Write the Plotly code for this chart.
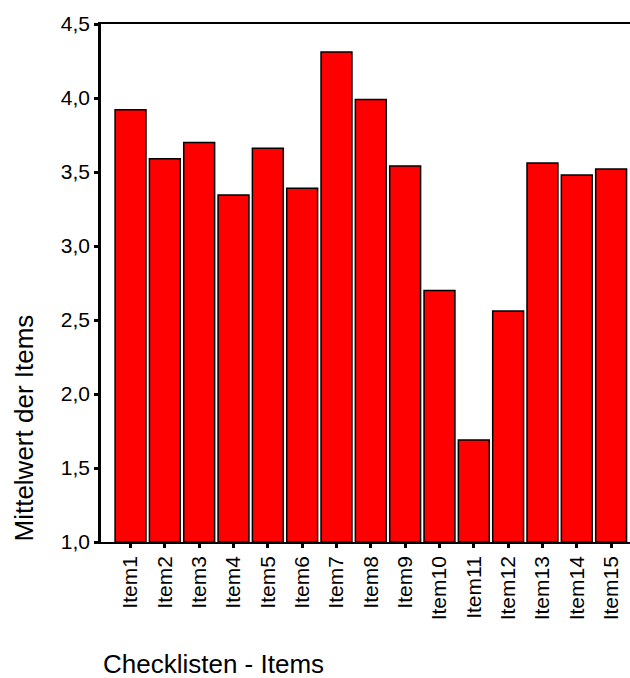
import plotly.graph_objects as go

categories = ["Item1", "Item2", "Item3", "Item4", "Item5", "Item6", "Item7", "Item8",
              "Item9", "Item10", "Item11", "Item12", "Item13", "Item14", "Item15"]
means = [3.92, 3.59, 3.70, 3.345, 3.66, 3.39, 4.31, 3.99,
         3.54, 2.70, 1.69, 2.56, 3.56, 3.48, 3.52]
y_ticks = [1.0, 1.5, 2.0, 2.5, 3.0, 3.5, 4.0, 4.5]
y_tick_labels = ["1,0", "1,5", "2,0", "2,5", "3,0", "3,5", "4,0", "4,5"]
y_title = "Mittelwert der Items"
x_title = "Checklisten - Items"

font_family = "Liberation Sans, Arial, sans-serif"

fig = go.Figure(go.Bar(
    x=categories,
    y=[m - 1.0 for m in means],
    base=1.0,
    marker=dict(color="#FF0000", line=dict(color="#000000", width=1.5)),
    hovertext=[f"{m}" for m in means],
))

fig.update_layout(
    width=630, height=678,
    margin=dict(l=101, r=0, t=24, b=136, autoexpand=False),
    paper_bgcolor="white", plot_bgcolor="white",
    showlegend=False,
    bargap=0.1,
    font=dict(family=font_family, color="black"),
    xaxis=dict(
        type="category",
        range=[-0.86, 14.55],
        automargin=False,
        showline=True, linecolor="black", linewidth=1.5, mirror=True,
        ticks="outside", ticklen=4, tickwidth=3, tickcolor="black",
        tickangle=-90, tickfont=dict(size=21, family=font_family),
        showgrid=False, zeroline=False,
    ),
    yaxis=dict(
        range=[1.0, 4.5],
        automargin=False,
        tickvals=y_ticks, ticktext=y_tick_labels,
        showline=True, linecolor="black", linewidth=2.5,
        ticks="outside", ticklen=4, tickwidth=3, tickcolor="black",
        tickfont=dict(size=21, family=font_family),
        showgrid=False, zeroline=False,
    ),
    annotations=[
        dict(text=y_title, textangle=-90, xref="paper", yref="paper",
             x=(23.5 - 101) / 529, xanchor="center",
             y=(542 - 428) / 518, yanchor="middle",
             showarrow=False, font=dict(size=26, family=font_family)),
        dict(text=x_title, xref="paper", yref="paper",
             x=0, xanchor="left",
             y=-(664 - 542) / 518, yanchor="middle",
             showarrow=False, font=dict(size=26, family=font_family)),
    ],
)

fig.write_html(
    "out.html",
    config={"displayModeBar": False},
    post_script="document.body.style.margin='0';document.body.style.overflow='hidden';",
)
